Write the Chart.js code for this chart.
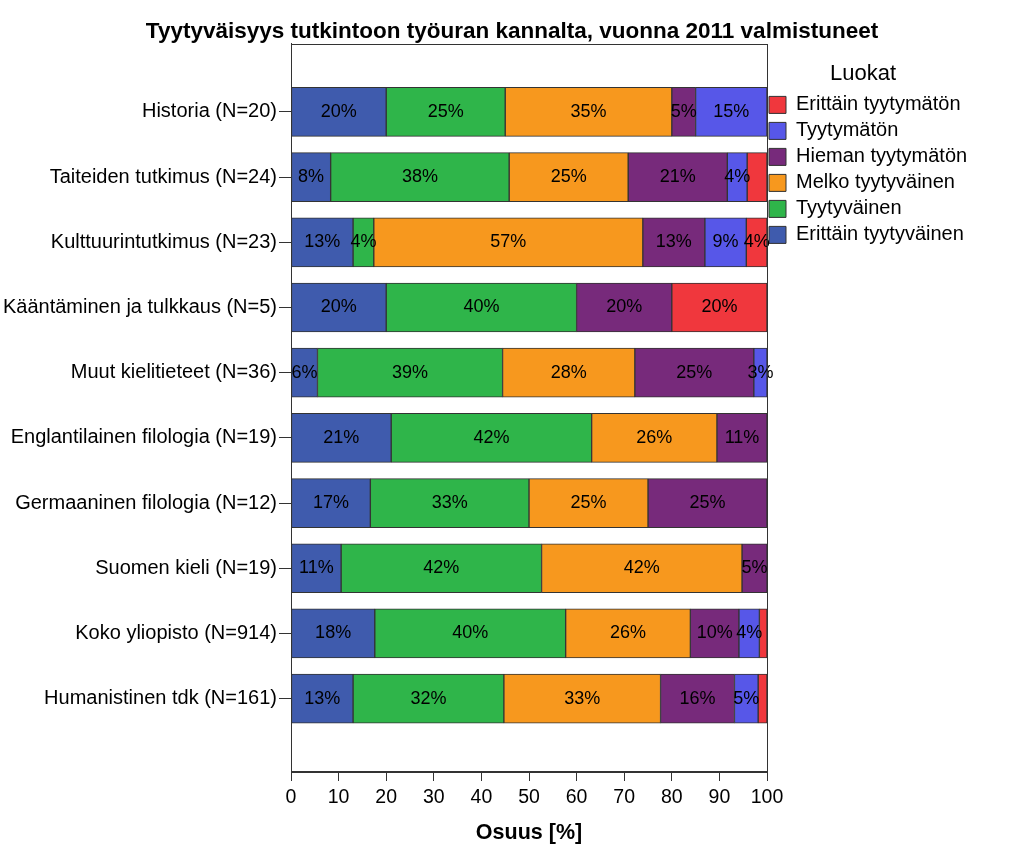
<!DOCTYPE html>
<html>
<head>
<meta charset="utf-8">
<script src="https://cdn.jsdelivr.net/npm/chart.js@4"></script>
<style>
html,body{margin:0;padding:0;background:#fff;}
#wrap{width:1024px;height:858px;position:relative;}
</style>
</head>
<body>
<div id="wrap"><canvas id="c"></canvas></div>
<script>
const categories = [
  'Historia (N=20)',
  'Taiteiden tutkimus (N=24)',
  'Kulttuurintutkimus (N=23)',
  'Kääntäminen ja tulkkaus (N=5)',
  'Muut kielitieteet (N=36)',
  'Englantilainen filologia (N=19)',
  'Germaaninen filologia (N=12)',
  'Suomen kieli (N=19)',
  'Koko yliopisto (N=914)',
  'Humanistinen tdk (N=161)'
];
const seriesNames = [
  'Erittäin tyytyväinen',
  'Tyytyväinen',
  'Melko tyytyväinen',
  'Hieman tyytymätön',
  'Tyytymätön',
  'Erittäin tyytymätön'
];
const erittainTyytyvainen = [20, 8.33, 13.04, 20, 5.56, 21.05, 16.67, 10.53, 17.6, 13.04];
const tyytyvainen        = [25, 37.5, 4.35, 40, 38.89, 42.11, 33.33, 42.11, 40.1, 31.68];
const melkoTyytyvainen   = [35, 25, 56.52, 0, 27.78, 26.32, 25, 42.11, 26.2, 32.92];
const hiemanTyytymaton   = [5, 20.83, 13.04, 20, 25, 10.53, 25, 5.26, 10.2, 15.53];
const tyytymaton         = [15, 4.17, 8.70, 0, 2.78, 0, 0, 0, 4.3, 4.97];
const erittainTyytymaton = [0, 4.17, 4.35, 20, 0, 0, 0, 0, 1.6, 1.86];
const xTickValues = [0, 10, 20, 30, 40, 50, 60, 70, 80, 90, 100];

const seriesValues = [erittainTyytyvainen, tyytyvainen, melkoTyytyvainen, hiemanTyytymaton, tyytymaton, erittainTyytymaton];
const seriesColors = ['#3F5BAD', '#2FB54A', '#F7981E', '#772A7B', '#5757E8', '#F0373D'];

const FONT = '"Liberation Sans", Arial, Helvetica, sans-serif';
Chart.defaults.font.family = FONT;
Chart.defaults.color = '#000';

const datasets = seriesNames.map((name, k) => ({
  label: name,
  data: seriesValues[k].map((v, i) => ({ x: v, y: i })),
  backgroundColor: seriesColors[k],
  borderColor: '#333',
  borderWidth: 1,
  borderSkipped: false,
  barThickness: 49
}));

const segmentLabels = {
  id: 'segmentLabels',
  afterDatasetsDraw(chart) {
    const ctx = chart.ctx;
    ctx.save();
    ctx.font = '18px ' + FONT;
    ctx.fillStyle = '#000';
    ctx.textAlign = 'center';
    ctx.textBaseline = 'middle';
    const lastRight = {};
    chart.data.datasets.forEach((ds, di) => {
      const meta = chart.getDatasetMeta(di);
      meta.data.forEach((bar, i) => {
        const v = ds.data[i].x;
        if (v < 2.5) return;
        const text = Math.round(v) + '%';
        const cx = (bar.x + bar.base) / 2;
        const w = ctx.measureText(text).width;
        if (lastRight[i] !== undefined && cx - w / 2 < lastRight[i]) return;
        ctx.fillText(text, cx, bar.y);
        lastRight[i] = cx + w / 2;
      });
    });
    ctx.restore();
  }
};

const frame = {
  id: 'frame',
  afterDraw(chart) {
    const a = chart.chartArea;
    const ctx = chart.ctx;
    ctx.save();
    ctx.strokeStyle = '#333';
    ctx.lineWidth = 1;
    ctx.strokeRect(Math.round(a.left) + 0.5, Math.round(a.top) + 0.5, Math.round(a.right - a.left), Math.round(a.bottom - a.top));
    ctx.restore();
  }
};

// keep the plot's right edge at 767 and centre the legend title over its items
const legendLayout = {
  id: 'legendLayout',
  afterInit(chart) {
    const lg = chart.legend;
    if (!lg) return;
    const origFit = lg.fit.bind(lg);
    lg.fit = function () { origFit(); this.width = 257; };
  },
  afterLayout(chart) {
    const lg = chart.legend;
    if (!lg) return;
    lg.left = lg.left - 4;
    lg.width = 200;
    lg.right = chart.width;
  }
};

new Chart(document.getElementById('c'), {
  type: 'bar',
  data: { datasets },
  plugins: [segmentLabels, frame, legendLayout],
  options: {
    indexAxis: 'y',
    responsive: true,
    maintainAspectRatio: false,
    animation: false,
    layout: { padding: { left: 0, right: 0, top: 0, bottom: 0 } },
    scales: {
      x: {
        type: 'linear',
        stacked: true,
        min: 0,
        max: 100,
        afterBuildTicks(axis) { axis.ticks = xTickValues.map(v => ({ value: v })); },
        afterFit(scale) { scale.height = 87; },
        grid: { drawOnChartArea: false, drawTicks: true, tickLength: 10, color: '#333' },
        border: { color: '#333' },
        ticks: { font: { size: 19.5 }, padding: 5, color: '#000', maxRotation: 0 },
        title: { display: true, text: 'Osuus [%]', font: { size: 21.5, weight: 'bold' }, color: '#000', padding: { top: 0, bottom: 12 } }
      },
      y: {
        type: 'linear',
        stacked: true,
        reverse: true,
        offset: false,
        min: -1.05,
        max: 10.11,
        afterBuildTicks(axis) { axis.ticks = categories.map((c, i) => ({ value: i })); },
        afterFit(scale) { scale.width = 291; },
        grid: { drawOnChartArea: false, drawTicks: true, tickLength: 12, color: '#333', offset: false },
        border: { color: '#333' },
        ticks: {
          autoSkip: false,
          font: { size: 20 },
          padding: 2,
          color: '#000',
          callback: (value) => categories[value] !== undefined ? categories[value] : ''
        }
      }
    },
    plugins: {
      title: {
        display: true,
        text: 'Tyytyväisyys tutkintoon työuran kannalta, vuonna 2011 valmistuneet',
        font: { size: 22.5, weight: 'bold', lineHeight: 1 },
        color: '#000',
        padding: { top: 21, bottom: 0 }
      },
      legend: {
        position: 'right',
        align: 'start',
        fullSize: false,
        reverse: true,
        title: { display: true, text: 'Luokat', font: { size: 22 }, color: '#000', padding: { top: 19, bottom: 0 } },
        labels: { font: { size: 20 }, color: '#000', boxWidth: 17, boxHeight: 17, padding: 6 }
      },
      tooltip: { enabled: false }
    }
  }
});
</script>
</body>
</html>
